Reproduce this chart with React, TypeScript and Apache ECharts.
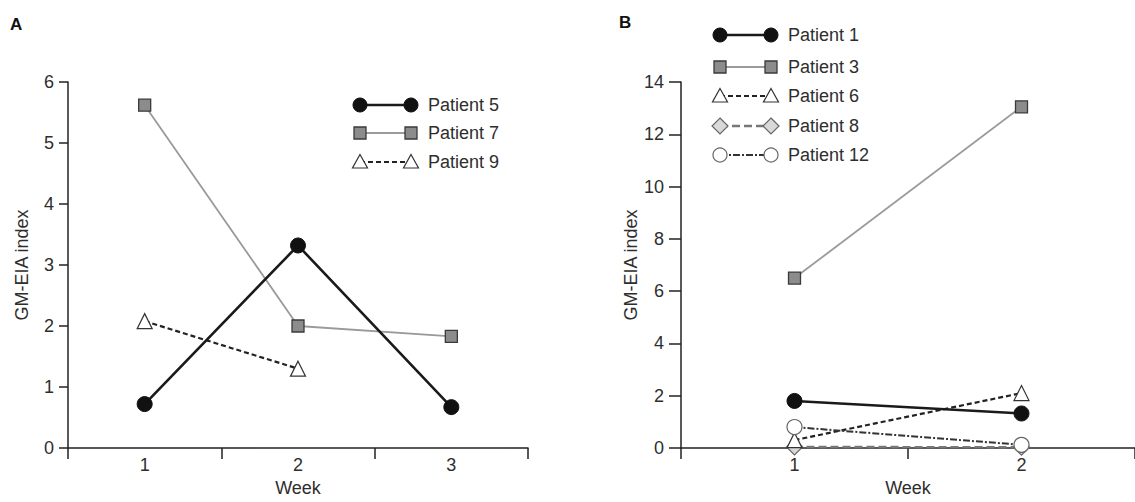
import React, { useEffect, useRef } from "react";
import * as echarts from "echarts";

// ---------- data ----------
const weeksA = ["1", "2", "3"];
const patient5 = [0.72, 3.32, 0.67];
const patient7 = [5.62, 2.0, 1.83];
const patient9: (number | string)[] = [2.08, 1.3, "-"];

const weeksB = ["1", "2"];
const patient1 = [1.8, 1.32];
const patient3 = [6.5, 13.05];
const patient6 = [0.3, 2.1];
const patient8 = [0.04, 0.03];
const patient12 = [0.8, 0.12];

const yTicksA = { min: 0, max: 6, interval: 1 };
const yTicksB = { min: 0, max: 14, interval: 2 };

const FONT = '"Liberation Sans", Arial, Helvetica, sans-serif';
const TXT = "#2e2e2e";

// ---------- styles ----------
type Sty = {
  symbol: string;
  size: number;
  fill: string;
  border: string;
  borderWidth: number;
  line: string;
  lineWidth: number;
  dash: any;
};
const styBlackCircle: Sty = { symbol: "circle", size: 15, fill: "#111", border: "#111", borderWidth: 1, line: "#1a1a1a", lineWidth: 2.6, dash: "solid" };
const styGreySquare: Sty = { symbol: "rect", size: 12, fill: "#8c8c8c", border: "#3a3a3a", borderWidth: 1.3, line: "#9a9a9a", lineWidth: 1.8, dash: "solid" };
const styTriangle: Sty = { symbol: "triangle", size: 15, fill: "#fff", border: "#333", borderWidth: 1.2, line: "#222", lineWidth: 2.2, dash: [5, 3] };
const styDiamond: Sty = { symbol: "diamond", size: 16, fill: "#d9d9d9", border: "#666", borderWidth: 1.2, line: "#777", lineWidth: 2.4, dash: [8, 4] };
const styOpenCircle: Sty = { symbol: "circle", size: 15, fill: "#fff", border: "#666", borderWidth: 1.2, line: "#333", lineWidth: 2, dash: [7, 2, 2, 2] };

function series(name: string, data: any[], s: Sty, xi: number, z: number) {
  return {
    type: "line",
    name,
    xAxisIndex: xi,
    yAxisIndex: xi,
    data,
    z,
    symbol: s.symbol,
    symbolSize: s.size,
    showAllSymbol: true,
    connectNulls: false,
    itemStyle: { color: s.fill, borderColor: s.border, borderWidth: s.borderWidth, opacity: 1 },
    lineStyle: { color: s.line, width: s.lineWidth, type: s.dash },
    emphasis: { disabled: true },
  };
}

function symbolGraphic(s: Sty, cx: number, cy: number) {
  const r = s.size / 2;
  const style = { fill: s.fill, stroke: s.border, lineWidth: s.borderWidth };
  if (s.symbol === "circle") return { type: "circle", shape: { cx, cy, r: r - 0.5 }, style, z: 10 };
  if (s.symbol === "rect") return { type: "rect", shape: { x: cx - r, y: cy - r, width: s.size, height: s.size }, style, z: 10 };
  if (s.symbol === "triangle")
    return { type: "polygon", shape: { points: [[cx, cy - r], [cx + r, cy + r * 0.8], [cx - r, cy + r * 0.8]] }, style, z: 10 };
  return { type: "polygon", shape: { points: [[cx, cy - r], [cx + r, cy], [cx, cy + r], [cx - r, cy]] }, style, z: 10 };
}

function legendGraphic(items: { name: string; s: Sty }[], x0: number, x1: number, tx: number, ys: number[]) {
  const out: any[] = [];
  items.forEach((it, i) => {
    const y = ys[i];
    out.push({
      type: "line",
      shape: { x1: x0, y1: y, x2: x1, y2: y },
      style: { stroke: it.s.line, lineWidth: it.s.lineWidth, lineDash: Array.isArray(it.s.dash) ? it.s.dash : null },
      z: 9,
    });
    out.push(symbolGraphic(it.s, x0, y));
    out.push(symbolGraphic(it.s, x1, y));
    out.push({
      type: "text",
      x: tx,
      y,
      style: { text: it.name, fill: TXT, font: `18px ${FONT}`, textVerticalAlign: "middle", textAlign: "left" },
      z: 10,
    });
  });
  return out;
}

const axisLineStyle = { color: "#222", width: 1.5 };

function xAxis(cats: string[], gi: number) {
  return {
    type: "category",
    gridIndex: gi,
    data: cats,
    boundaryGap: true,
    name: "Week",
    nameLocation: "middle",
    nameGap: 31,
    nameTextStyle: { color: TXT, fontSize: 18, fontFamily: FONT },
    axisLine: { lineStyle: axisLineStyle },
    axisTick: { show: true, length: 11, lineStyle: axisLineStyle },
    axisLabel: { color: TXT, fontSize: 18, fontFamily: FONT, margin: 8 },
    splitLine: { show: false },
  };
}

function yAxis(t: { min: number; max: number; interval: number }, gi: number, tick: number, gap: number) {
  return {
    type: "value",
    gridIndex: gi,
    min: t.min,
    max: t.max,
    interval: t.interval,
    name: "GM-EIA index",
    nameLocation: "middle",
    nameGap: gap,
    nameTextStyle: { color: TXT, fontSize: 18, fontFamily: FONT },
    axisLine: { show: true, lineStyle: axisLineStyle },
    axisTick: { show: true, length: tick, lineStyle: axisLineStyle },
    axisLabel: { color: TXT, fontSize: 18, fontFamily: FONT, margin: tick + 5 },
    splitLine: { show: false },
  };
}

export default function App() {
  const ref = useRef<HTMLDivElement>(null);
  useEffect(() => {
    if (!ref.current) return;
    const chart = echarts.init(ref.current, null, { renderer: "svg" });
    const legendA = legendGraphic(
      [
        { name: "Patient 5", s: styBlackCircle },
        { name: "Patient 7", s: styGreySquare },
        { name: "Patient 9", s: styTriangle },
      ],
      360, 411, 428, [105, 133, 162]
    );
    const legendB = legendGraphic(
      [
        { name: "Patient 1", s: styBlackCircle },
        { name: "Patient 3", s: styGreySquare },
        { name: "Patient 6", s: styTriangle },
        { name: "Patient 8", s: styDiamond },
        { name: "Patient 12", s: styOpenCircle },
      ],
      720, 771, 788, [35, 67, 96, 126, 155]
    );
    chart.setOption({
      animation: false,
      backgroundColor: "#fff",
      textStyle: { fontFamily: FONT },
      grid: [
        { left: 68, top: 82, width: 460, height: 371 },
        { left: 681, top: 82, width: 460, height: 371 },
      ],
      xAxis: [xAxis(weeksA, 0), xAxis(weeksB, 1)],
      yAxis: [yAxis(yTicksA, 0, 9, 37), yAxis(yTicksB, 1, 12, 38)],
      series: [
        series("Patient 7", patient7, styGreySquare, 0, 2),
        series("Patient 9", patient9, styTriangle, 0, 3),
        series("Patient 5", patient5, styBlackCircle, 0, 4),
        series("Patient 3", patient3, styGreySquare, 1, 2),
        series("Patient 8", patient8, styDiamond, 1, 3),
        series("Patient 6", patient6, styTriangle, 1, 4),
        series("Patient 12", patient12, styOpenCircle, 1, 5),
        series("Patient 1", patient1, styBlackCircle, 1, 6),
      ],
      graphic: [
        { type: "text", x: 10, y: 16, style: { text: "A", fill: "#111", font: `bold 17px ${FONT}` } },
        { type: "text", x: 619, y: 14, style: { text: "B", fill: "#111", font: `bold 17px ${FONT}` } },
        ...legendA,
        ...legendB,
      ],
    });
    return () => chart.dispose();
  }, []);
  return (
    <div
      ref={ref}
      style={{ position: "fixed", left: 0, top: 0, width: 1135, height: 502, background: "#fff" }}
    />
  );
}
